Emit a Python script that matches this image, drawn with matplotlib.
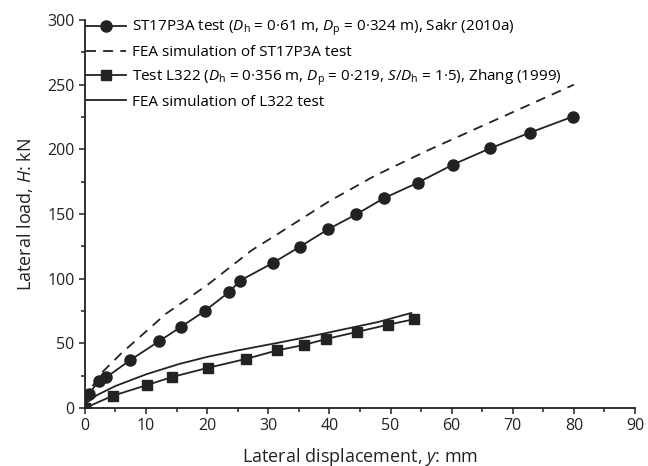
import matplotlib
matplotlib.use('Agg')
import matplotlib.pyplot as plt
from matplotlib.ticker import MultipleLocator

plt.rcParams['font.family'] = ['Open Sans', 'DejaVu Sans']
plt.rcParams['mathtext.fontset'] = 'custom'
plt.rcParams['mathtext.rm'] = 'Open Sans'
plt.rcParams['mathtext.it'] = 'Open Sans:italic'

# Ensayo ST17P3A (Sakr 2010a)
st_x = [0, 0.65, 2.3, 3.5, 7.4, 12.1, 15.8, 19.6, 23.6, 25.4, 30.7, 35.2, 39.8,
        44.4, 49.0, 54.5, 60.2, 66.3, 72.8, 79.8]
st_y = [0, 10.8, 21.0, 23.7, 37.0, 51.5, 63.0, 75.0, 89.7, 98.5, 112.0, 124.8, 138.2,
        149.8, 162.4, 174.3, 188.2, 200.8, 212.9, 225.3]

# Simulación FEA del ST17P3A
fea_st_x = [0, 1, 2.7, 5.9, 13.3, 20, 27.3, 31.7, 40, 47.6, 56, 64, 72, 80]
fea_st_y = [5, 15, 27, 42, 73, 95, 122, 135, 160, 180, 199, 216, 233, 250]

# Ensayo L322 (Zhang 1999)
l322_x = [0, 4.6, 10.2, 14.3, 20.1, 26.4, 31.5, 35.8, 39.5, 44.5, 49.6, 53.8]
l322_y = [0, 9.5, 17.8, 24.0, 31.0, 38.0, 44.6, 48.7, 53.4, 58.8, 64.4, 68.6]

# Simulación FEA del L322
fea_l_x = [0, 2, 5, 10, 15.4, 20, 25, 31.7, 37, 42.5, 48, 53.4]
fea_l_y = [3, 10, 17, 26, 34, 39.5, 44.5, 50.5, 55.5, 61, 66.5, 73.5]

labels = [
    r'ST17P3A test ($D_\mathrm{h}$ = 0·61 m, $D_\mathrm{p}$ = 0·324 m), Sakr (2010a)',
    'FEA simulation of ST17P3A test',
    r'Test L322 ($D_\mathrm{h}$ = 0·356 m, $D_\mathrm{p}$ = 0·219, $S$/$D_\mathrm{h}$ = 1·5), Zhang (1999)',
    'FEA simulation of L322 test',
]

c = '#222222'
fig = plt.figure(figsize=(6.48, 4.66), dpi=100)
ax = fig.add_axes([0.131, 0.1245, 0.849, 0.8325])

ax.plot(st_x, st_y, color=c, lw=1.3, marker='o', ms=8, label=labels[0])
ax.plot(fea_st_x, fea_st_y, color=c, lw=1.3, dashes=(5.5, 4), label=labels[1])
ax.plot(l322_x, l322_y, color=c, lw=1.3, marker='s', ms=7, label=labels[2])
ax.plot(fea_l_x, fea_l_y, color=c, lw=1.3, label=labels[3])

ax.set_xlim(0, 90)
ax.set_ylim(0, 300)
ax.xaxis.set_major_locator(MultipleLocator(10))
ax.xaxis.set_minor_locator(MultipleLocator(5))
ax.yaxis.set_major_locator(MultipleLocator(50))
ax.yaxis.set_minor_locator(MultipleLocator(25))
ax.spines['top'].set_visible(False)
ax.spines['right'].set_visible(False)
for s in ['left', 'bottom']:
    ax.spines[s].set_linewidth(1.3)
    ax.spines[s].set_color(c)
ax.tick_params(which='major', direction='out', length=4, width=1.1, labelsize=11.5, colors=c)
ax.tick_params(which='minor', direction='out', length=3, width=1.1, colors=c)

ax.set_xlabel(r'Lateral displacement, $y$: mm', fontsize=13, color=c, labelpad=8)
ax.set_ylabel(r'Lateral load, $H$: kN', fontsize=13, color=c, labelpad=9)

ax.legend(loc='upper left', frameon=False, fontsize=11, handlelength=2.6,
          handletextpad=0.4, labelspacing=0.45, borderaxespad=0, borderpad=0.1,
          bbox_to_anchor=(0.0, 1.01))

fig.savefig('out.png', dpi=100)
